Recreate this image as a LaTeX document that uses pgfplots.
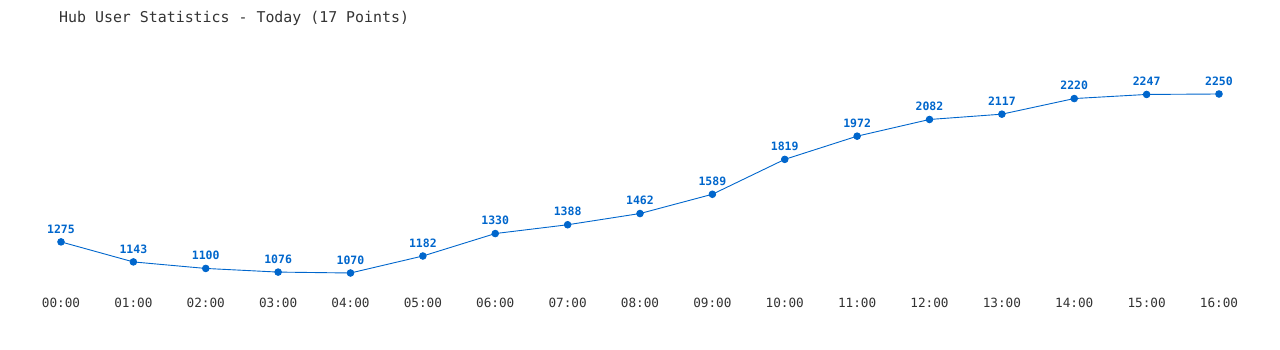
\documentclass[border=0pt]{standalone}
\usepackage{pgfplots}
\pgfplotsset{compat=1.18}
\usepackage{fontspec}
\setmainfont{DejaVu Sans Mono}
\setmonofont{DejaVu Sans Mono}
\definecolor{lineblue}{HTML}{0066CC}
\definecolor{txt}{HTML}{333333}
\begin{document}
\begin{tikzpicture}[x=1pt,y=1pt]
\path[use as bounding box] (0,0) rectangle (1280,350);
\node[anchor=west, text=txt, font=\fontsize{14.9pt}{16pt}\selectfont, inner sep=0pt] at (59,332) {Hub User Statistics - Today (17 Points)};
\begin{axis}[
  at={(61pt,77pt)}, anchor=south west,
  scale only axis, width=1158pt, height=179pt,
  xmin=0, xmax=16, ymin=1070, ymax=2250,
  clip=false,
  axis line style={draw=none},
  ytick=\empty,
  xtick={0,...,16},
  xticklabels={00:00,01:00,02:00,03:00,04:00,05:00,06:00,07:00,08:00,09:00,10:00,11:00,12:00,13:00,14:00,15:00,16:00},
  major tick length=0pt,
  xticklabel style={anchor=center, yshift=-30pt, text=txt, font=\fontsize{12.7pt}{14pt}\selectfont, inner sep=0pt},
  nodes near coords,
  nodes near coords style={/pgf/number format/assume math mode=true, /pgf/number format/fixed, /pgf/number format/1000 sep={}},
  every node near coord/.append style={anchor=center, yshift=13pt, text=lineblue, font=\fontsize{11.5pt}{13pt}\selectfont\bfseries, inner sep=0pt},
]
\addplot[color=lineblue, line width=0.9pt, mark=*, mark size=3.3pt, mark options={fill=lineblue, draw=lineblue}] coordinates {
(0,1275) (1,1143) (2,1100) (3,1076) (4,1070) (5,1182) (6,1330) (7,1388) (8,1462) (9,1589) (10,1819) (11,1972) (12,2082) (13,2117) (14,2220) (15,2247) (16,2250)
};
\end{axis}
\end{tikzpicture}
\end{document}
